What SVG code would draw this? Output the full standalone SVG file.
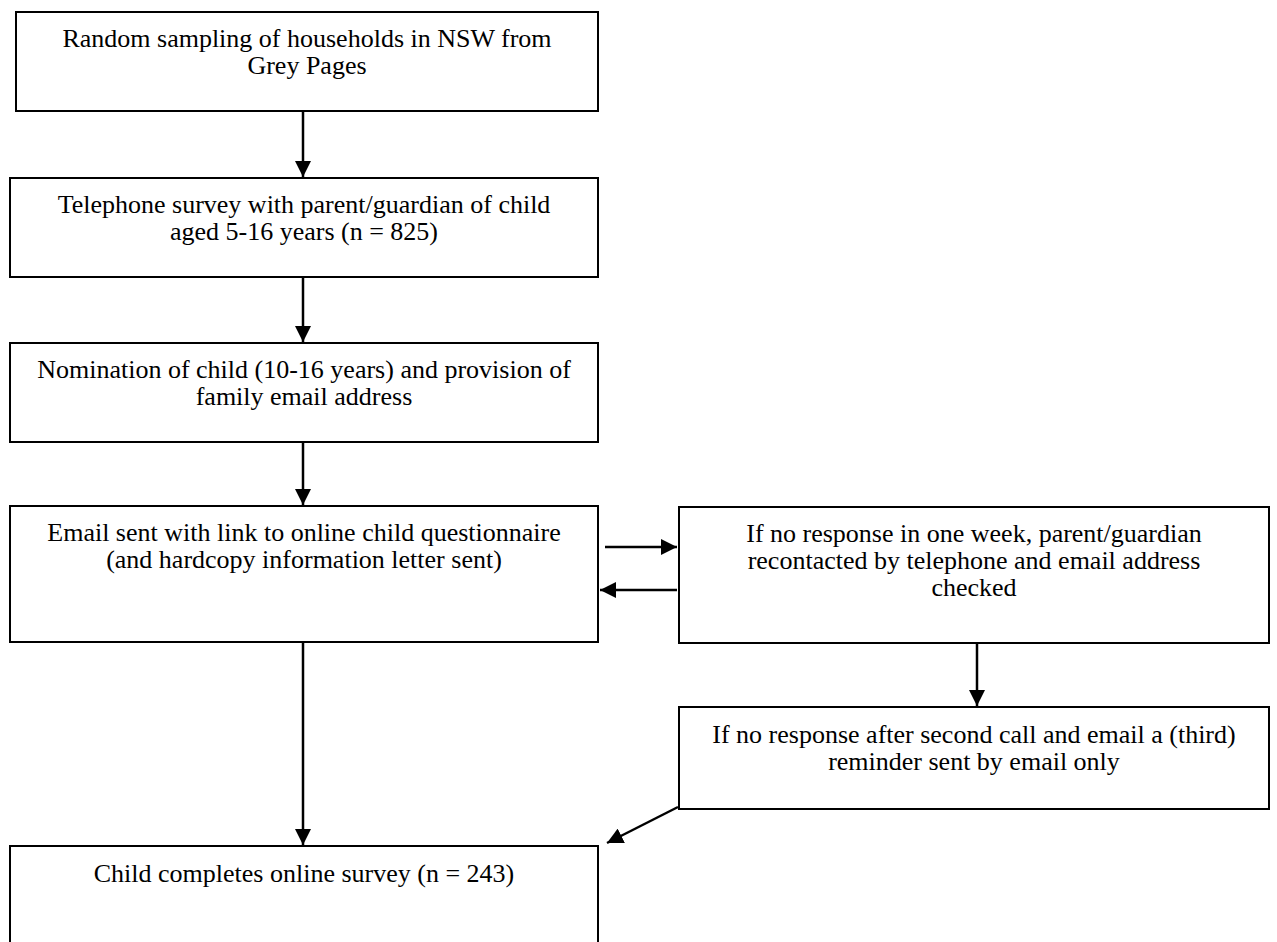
<svg xmlns="http://www.w3.org/2000/svg" width="1277" height="942" viewBox="0 0 1277 942">
<style>
.box{fill:#fff;stroke:#000;stroke-width:2}
.t{font-family:"Liberation Serif","Times New Roman",serif;font-size:26px;fill:#000;text-anchor:middle}
.c{stroke:#000;stroke-width:2.5;fill:none;marker-end:url(#ah)}
</style>
<defs>
<marker id="ah" viewBox="0 0 16 16" refX="16" refY="8" markerWidth="16" markerHeight="16" markerUnits="userSpaceOnUse" orient="auto">
<path d="M0,0 L16,8 L0,16 z" fill="#000"/>
</marker>
</defs>
<rect width="1277" height="942" fill="#fff"/>
<g id="n1"><rect class="box" x="16" y="12" width="582" height="99"/>
<text class="t" x="307" y="47">Random sampling of households in NSW from</text>
<text class="t" x="307" y="74">Grey Pages</text></g>
<g id="n2"><rect class="box" x="10" y="178" width="588" height="99"/>
<text class="t" x="304" y="213">Telephone survey with parent/guardian of child</text>
<text class="t" x="304" y="240">aged 5-16 years (n = 825)</text></g>
<g id="n3"><rect class="box" x="10" y="343" width="588" height="99"/>
<text class="t" x="304" y="378">Nomination of child (10-16 years) and provision of</text>
<text class="t" x="304" y="405">family email address</text></g>
<g id="n4"><rect class="box" x="10" y="506" width="588" height="136"/>
<text class="t" x="304" y="541">Email sent with link to online child questionnaire</text>
<text class="t" x="304" y="568">(and hardcopy information letter sent)</text></g>
<g id="n5"><rect class="box" x="679" y="507" width="590" height="136"/>
<text class="t" x="974" y="542">If no response in one week, parent/guardian</text>
<text class="t" x="974" y="569">recontacted by telephone and email address</text>
<text class="t" x="974" y="596">checked</text></g>
<g id="n6"><rect class="box" x="679" y="707" width="590" height="102"/>
<text class="t" x="974" y="743">If no response after second call and email a (third)</text>
<text class="t" x="974" y="770">reminder sent by email only</text></g>
<g id="n7"><rect class="box" x="10" y="846" width="588" height="110"/>
<text class="t" x="304" y="882">Child completes online survey (n = 243)</text></g>
<g id="connectors">
<line class="c" x1="303" y1="111" x2="303" y2="177"/>
<line class="c" x1="303" y1="277" x2="303" y2="342"/>
<line class="c" x1="303" y1="442" x2="303" y2="505"/>
<line class="c" x1="605" y1="547" x2="677" y2="547"/>
<line class="c" x1="677" y1="590" x2="600" y2="590"/>
<line class="c" x1="977" y1="643" x2="977" y2="706"/>
<line class="c" x1="303" y1="642" x2="303" y2="845"/>
<line class="c" x1="678" y1="807" x2="607" y2="843"/>
</g>
</svg>
